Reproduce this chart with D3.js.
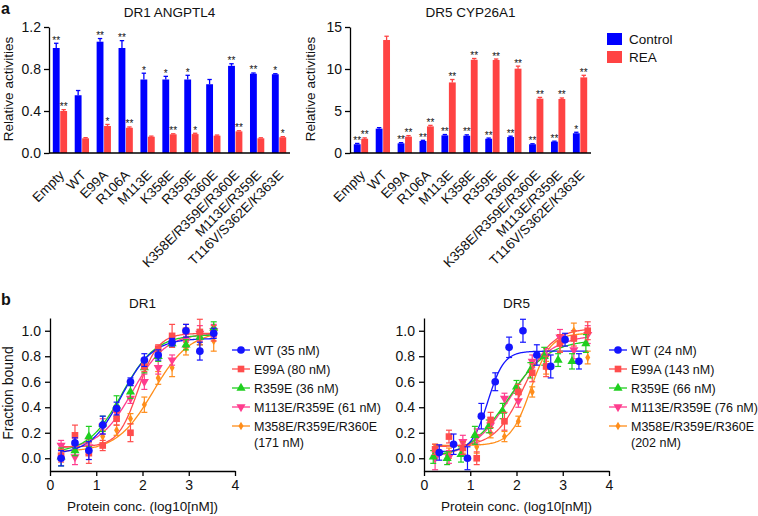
<!DOCTYPE html>
<html><head><meta charset="utf-8">
<script src="https://cdn.jsdelivr.net/npm/d3@7"></script>
<style>
body{margin:0;background:#fff}
svg{display:block}
text{font-family:"Liberation Sans",Arial,Helvetica,sans-serif;fill:#111}
</style>
</head><body>
<svg id="chart" width="758" height="516"></svg>
<script>
// ---------- Panel a data ----------
const categories = ["Empty","WT","E99A","R106A","M113E","K358E","R359E","R360E","K358E/R359E/R360E","M113E/R359E","T116V/S362E/K363E"];
const groups = ["Control","REA"];
const dr1Control    = [1.00,0.55,1.06,1.00,0.70,0.70,0.70,0.655,0.83,0.755,0.75];
const dr1ControlErr = [0.045,0.045,0.03,0.07,0.06,0.03,0.04,0.045,0.02,0.007,0.005];
const dr1Rea        = [0.40,0.14,0.257,0.24,0.155,0.178,0.18,0.165,0.206,0.14,0.15];
const dr1ReaErr     = [0.013,0.006,0.015,0.008,0.006,0.005,0.008,0.006,0.006,0.005,0.006];
const dr1ControlSig = ["**","","**","**","*","*","*","","**","**","*"];
const dr1ReaSig     = ["**","","*","**","","**","*","","**","","*"];
const dr5Control    = [1.04,2.9,1.15,1.43,2.1,2.06,1.7,1.9,1.04,1.35,2.35];
const dr5ControlErr = [0.1,0.12,0.08,0.08,0.1,0.1,0.08,0.1,0.06,0.06,0.12];
const dr5Rea        = [1.7,13.45,1.95,3.17,8.4,11.1,11.07,10.04,6.47,6.43,9.0];
const dr5ReaErr     = [0.1,0.45,0.12,0.12,0.35,0.15,0.12,0.3,0.15,0.12,0.25];
const dr5ControlSig = ["**","","**","**","**","**","**","**","**","**","*"];
const dr5ReaSig     = ["**","","**","**","**","**","**","**","**","**","**"];
const dr1Ticks = [0,0.4,0.8,1.2];
const dr5Ticks = [0,5,10,15];

// ---------- Panel b data ----------
const bindSeries = ["WT","E99A","R359E","M113E/R359E","M358E/R359E/R360E"];
const dr1Kd = [35,80,36,61,171];
const dr5Kd = [24,143,66,76,202];
const concX   = [0.24,0.54,0.84,1.14,1.44,1.74,2.04,2.34,2.64,2.94,3.24,3.54];
const concXwt5 = [0.33,0.64,0.94,1.24,1.54,1.84,2.14,2.44,2.74,3.05,3.35];
const concXg5 = [0.2,0.5,0.8,1.1,1.4,1.7,2.0,2.3,2.6,2.9,3.2,3.5];

const dr1WT      = [0.00,0.12,0.06,0.26,0.39,0.60,0.77,0.81,0.91,1.00,0.84,0.98];
const dr1WTErr   = [0.06,0.04,0.07,0.07,0.05,0.03,0.05,0.04,0.03,0.05,0.07,0.04];
const dr1E99A    = [0.02,0.18,0.04,0.10,0.31,0.20,0.72,0.86,0.96,1.00,0.99,0.98];
const dr1E99AErr = [0.05,0.08,0.08,0.04,0.05,0.07,0.04,0.03,0.09,0.05,0.10,0.06];
const dr1R359E   = [0.01,0.06,0.17,0.27,0.41,0.52,0.71,0.80,0.90,0.89,0.95,1.02];
const dr1R359EErr= [0.07,0.04,0.08,0.06,0.08,0.05,0.04,0.04,0.03,0.04,0.06,0.05];
const dr1M113    = [0.10,0.01,0.09,0.25,0.36,0.47,0.60,0.71,0.77,0.92,0.98,1.00];
const dr1M113Err = [0.04,0.06,0.06,0.06,0.05,0.04,0.06,0.05,0.04,0.05,0.06,0.05];
const dr1M358    = [0.03,0.06,0.08,0.17,0.22,0.31,0.42,0.63,0.71,0.86,0.91,0.92];
const dr1M358Err = [0.04,0.04,0.05,0.05,0.04,0.04,0.06,0.05,0.07,0.05,0.07,0.08];

const dr5WT      = [0.045,0.11,0.0,0.33,0.60,0.87,1.00,0.81,0.72,0.93,0.76];
const dr5WTErr   = [0.06,0.08,0.09,0.10,0.07,0.08,0.09,0.08,0.09,0.05,0.06];
const dr5E99A    = [0.07,0.17,0.08,0.0,0.30,0.29,0.52,0.67,0.72,0.90,0.94,1.00];
const dr5E99AErr = [0.04,0.05,0.05,0.05,0.06,0.07,0.06,0.07,0.08,0.07,0.06,0.07];
const dr5R359E   = [0.01,0.0,0.03,0.18,0.25,0.37,0.56,0.69,0.80,0.77,0.76,0.90];
const dr5R359EErr= [0.05,0.05,0.06,0.07,0.05,0.06,0.05,0.06,0.07,0.05,0.06,0.07];
const dr5M113    = [0.0,0.01,0.13,0.17,0.26,0.47,0.45,0.76,0.80,0.95,0.85,0.97];
const dr5M113Err = [0.09,0.05,0.05,0.06,0.06,0.04,0.05,0.05,0.06,0.06,0.07,0.07];
const dr5M358    = [0.08,0.04,0.08,0.09,0.20,0.17,0.29,0.52,0.71,0.90,1.00,0.79];
const dr5M358Err = [0.03,0.04,0.04,0.05,0.04,0.04,0.04,0.04,0.05,0.06,0.06,0.05];

// Hill fit parameters: bottom, top, slope
const dr1FitBottom = [0.03,0.09,0.04,0.07,0.05];
const dr1FitTop    = [0.94,0.98,0.97,0.98,1.00];
const dr1FitHill   = [1.3,2.0,1.2,1.2,1.1];
const dr5FitBottom = [0.05,0.09,0.0,0.0,0.10];
const dr5FitTop    = [0.84,1.02,0.93,0.97,0.98];
const dr5FitHill   = [2.5,1.4,1.0,1.0,2.0];

const seriesColors = ["#1414ff","#ff4d4d","#1fcf1f","#ff3d8e","#ff8d1a"];
const seriesSymbols = ["circle","square","triangle","triangleDown","diamond"];
const BLUE = "#0000ff", RED = "#ff4343";

const svg = d3.select("#chart");
const FONT = 13.5;
const LEGFONT = 12.5;

// ---------- helpers ----------
function barPanel(cfg){
  const g = svg.append("g");
  const x0 = d3.scaleBand().domain(categories).range(cfg.xr).paddingInner(0.32).paddingOuter(0.16);
  const x1 = d3.scaleBand().domain(groups).range([0, x0.bandwidth()]);
  const y = d3.scaleLinear().domain(cfg.yd).range([153,27]);
  const rows = categories.map((c,i)=>({c, vals:[
    {k:"Control", v:cfg.ctrl[i], e:cfg.ctrlErr[i], s:cfg.ctrlSig[i], col:BLUE},
    {k:"REA", v:cfg.rea[i], e:cfg.reaErr[i], s:cfg.reaSig[i], col:RED}]}));
  const cg = g.selectAll("g.cat").data(rows).join("g").attr("transform",d=>`translate(${x0(d.c)},0)`);
  const bg = cg.selectAll("g.b").data(d=>d.vals).join("g");
  bg.append("rect").attr("x",d=>x1(d.k)+0.3).attr("width",x1.bandwidth()-0.6)
    .attr("y",d=>y(d.v)).attr("height",d=>y(0)-y(d.v)).attr("fill",d=>d.col);
  bg.append("line").attr("x1",d=>x1(d.k)+x1.bandwidth()/2).attr("x2",d=>x1(d.k)+x1.bandwidth()/2)
    .attr("y1",d=>y(d.v)).attr("y2",d=>y(d.v+d.e)).attr("stroke",d=>d.col).attr("stroke-width",1.3);
  bg.append("line").attr("x1",d=>x1(d.k)+x1.bandwidth()/2-2.2).attr("x2",d=>x1(d.k)+x1.bandwidth()/2+2.2)
    .attr("y1",d=>y(d.v+d.e)).attr("y2",d=>y(d.v+d.e)).attr("stroke",d=>d.col).attr("stroke-width",1.3);
  bg.append("text").attr("x",d=>x1(d.k)+x1.bandwidth()/2).attr("y",d=>y(d.v+d.e)+0.5)
    .attr("text-anchor","middle").attr("font-size",10).text(d=>d.s);
  const ya = d3.axisLeft(y).tickValues(cfg.ticks).tickSize(5).tickSizeOuter(0).tickPadding(3)
    .tickFormat(cfg.fmt);
  const yg = g.append("g").attr("transform",`translate(${cfg.xr[0]},0)`).call(ya);
  yg.select(".domain").attr("stroke","#000").attr("stroke-width",1.3);
  yg.selectAll(".tick line").attr("stroke","#000").attr("stroke-width",1.3);
  yg.selectAll(".tick text").attr("font-size",14).attr("fill","#111").style("font-family",'"Liberation Sans",Arial,sans-serif');
  g.append("line").attr("x1",cfg.xr[0]).attr("x2",cfg.xr[1]).attr("y1",153).attr("y2",153)
    .attr("stroke","#000").attr("stroke-width",1.3);
  g.selectAll("text.cat").data(categories).join("text").attr("class","cat")
    .attr("text-anchor","end").attr("font-size",FONT)
    .attr("transform",d=>`translate(${x0(d)+x0.bandwidth()/2+5},${176}) rotate(-45)`)
    .text(d=>d);
  g.append("text").attr("x",(cfg.xr[0]+cfg.xr[1])/2).attr("y",17).attr("text-anchor","middle")
    .attr("font-size",FONT).text(cfg.title);
  g.append("text").attr("transform",`translate(${cfg.ylabX},89) rotate(-90)`).attr("text-anchor","middle")
    .attr("font-size",FONT).text("Relative activities");
}

function symbolPath(name, size){
  if(name==="triangleDown") return d3.symbol(d3.symbolTriangle, size)();
  const map = {circle:d3.symbolCircle, square:d3.symbolSquare, triangle:d3.symbolTriangle, diamond:d3.symbolDiamond};
  return d3.symbol(map[name], size)();
}
const symSize = {circle:46, square:44, triangle:36, triangleDown:36, diamond:22};

function bindPanel(cfg){
  const g = svg.append("g");
  const x = d3.scaleLinear().domain([0,4]).range(cfg.xr);
  const y = d3.scaleLinear().domain([-0.1,1.1]).range([471,318]);
  const order = [4,3,2,1,0];
  order.forEach(i=>{
    const lec = Math.log10(cfg.kd[i]);
    const xs = d3.range(cfg.cx[0], cfg.cx[1]+0.0001, 0.02);
    const pts = xs.map(xx=>[xx, cfg.bot[i] + (cfg.top[i]-cfg.bot[i])/(1+Math.pow(10,(lec-xx)*cfg.hill[i]))]);
    g.append("path").attr("d",d3.line().x(d=>x(d[0])).y(d=>y(d[1]))(pts))
      .attr("fill","none").attr("stroke",seriesColors[i]).attr("stroke-width",1.3);
  });
  order.forEach(i=>{
    const s = cfg.series[i];
    const pts = s.x.map((xx,j)=>({x:xx, y:s.y[j], e:s.e[j]}));
    const col = seriesColors[i];
    const pg = g.append("g");
    const eg = pg.selectAll("g").data(pts).join("g");
    eg.append("line").attr("x1",d=>x(d.x)).attr("x2",d=>x(d.x)).attr("y1",d=>y(d.y-d.e)).attr("y2",d=>y(d.y+d.e))
      .attr("stroke",col).attr("stroke-width",1.2);
    [-1,1].forEach(sg=>eg.append("line").attr("x1",d=>x(d.x)-3).attr("x2",d=>x(d.x)+3)
      .attr("y1",d=>y(d.y+sg*d.e)).attr("y2",d=>y(d.y+sg*d.e)).attr("stroke",col).attr("stroke-width",1.2));
    eg.append("path").attr("d",symbolPath(seriesSymbols[i], symSize[seriesSymbols[i]]))
      .attr("transform",d=>`translate(${x(d.x)},${y(d.y)})${seriesSymbols[i]==="triangleDown"?" rotate(180)":""}`)
      .attr("fill",col);
  });
  const ya = d3.axisLeft(y).tickValues([0,0.2,0.4,0.6,0.8,1.0]).tickFormat(d3.format(".1f"))
    .tickSize(5).tickSizeOuter(0).tickPadding(4);
  const yg = g.append("g").attr("transform",`translate(${cfg.xr[0]},0)`).call(ya);
  const xa = d3.axisBottom(x).tickValues([0,1,2,3,4]).tickFormat(d3.format("d")).tickSize(5).tickSizeOuter(0).tickPadding(4);
  const xg = g.append("g").attr("transform",`translate(0,471)`).call(xa);
  [yg,xg].forEach(a=>{
    a.select(".domain").attr("stroke","#000").attr("stroke-width",1.3);
    a.selectAll(".tick line").attr("stroke","#000").attr("stroke-width",1.3);
    a.selectAll(".tick text").attr("font-size",14).attr("fill","#111").style("font-family",'"Liberation Sans",Arial,sans-serif');
  });
  g.append("text").attr("x",(cfg.xr[0]+cfg.xr[1])/2).attr("y",308).attr("text-anchor","middle")
    .attr("font-size",FONT).text(cfg.title);
  g.append("text").attr("x",(cfg.xr[0]+cfg.xr[1])/2).attr("y",511).attr("text-anchor","middle")
    .attr("font-size",FONT).text("Protein conc. (log10[nM])");
  if(cfg.ylab){
    g.append("text").attr("transform",`translate(13,393) rotate(-90)`).attr("text-anchor","middle")
      .attr("font-size",14).text("Fraction bound");
  }
  const ly = [350,369,388,407,426];
  bindSeries.forEach((nm,i)=>{
    const lg = g.append("g").attr("transform",`translate(${cfg.legX},${ly[i]})`);
    lg.append("line").attr("x1",-9).attr("x2",9).attr("stroke",seriesColors[i]).attr("stroke-width",1.3);
    lg.append("path").attr("d",symbolPath(seriesSymbols[i], symSize[seriesSymbols[i]]))
      .attr("transform",seriesSymbols[i]==="triangleDown"?"rotate(180)":null).attr("fill",seriesColors[i]);
    const lbl = i<4 ? `${nm} (${cfg.kd[i]} nM)` : nm;
    lg.append("text").attr("x",13).attr("y",4.5).attr("font-size",LEGFONT).text(lbl);
    if(i===4) lg.append("text").attr("x",13).attr("y",21).attr("font-size",LEGFONT).text(`(${cfg.kd[i]} nM)`);
  });
}

// ---------- draw ----------
svg.append("text").attr("x",1).attr("y",14).attr("font-size",16).attr("font-weight","bold").text("a");
svg.append("text").attr("x",1).attr("y",305).attr("font-size",16).attr("font-weight","bold").text("b");

barPanel({xr:[49,290], yd:[0,1.2], ticks:dr1Ticks, fmt:d3.format(".1f"), title:"DR1 ANGPTL4", ylabX:13,
  ctrl:dr1Control, ctrlErr:dr1ControlErr, ctrlSig:dr1ControlSig, rea:dr1Rea, reaErr:dr1ReaErr, reaSig:dr1ReaSig});
barPanel({xr:[350,591], yd:[0,15], ticks:dr5Ticks, fmt:d3.format("d"), title:"DR5 CYP26A1", ylabX:315,
  ctrl:dr5Control, ctrlErr:dr5ControlErr, ctrlSig:dr5ControlSig, rea:dr5Rea, reaErr:dr5ReaErr, reaSig:dr5ReaSig});

[["Control",BLUE],["REA",RED]].forEach((d,i)=>{
  svg.append("rect").attr("x",607).attr("y",33+i*18).attr("width",15).attr("height",12).attr("fill",d[1]);
  svg.append("text").attr("x",629).attr("y",44+i*18).attr("font-size",FONT).text(d[0]);
});

bindPanel({xr:[50,235], title:"DR1", ylab:true, legX:241, kd:dr1Kd, cx:[0.24,3.54],
  bot:dr1FitBottom, top:dr1FitTop, hill:dr1FitHill,
  series:[
    {x:concX,y:dr1WT,e:dr1WTErr},{x:concX,y:dr1E99A,e:dr1E99AErr},{x:concX,y:dr1R359E,e:dr1R359EErr},
    {x:concX,y:dr1M113,e:dr1M113Err},{x:concX,y:dr1M358,e:dr1M358Err}]});
bindPanel({xr:[424,609], title:"DR5", ylab:false, legX:618, kd:dr5Kd, cx:[0.2,3.55],
  bot:dr5FitBottom, top:dr5FitTop, hill:dr5FitHill,
  series:[
    {x:concXwt5,y:dr5WT,e:dr5WTErr},{x:concX,y:dr5E99A,e:dr5E99AErr},{x:concXg5,y:dr5R359E,e:dr5R359EErr},
    {x:concX,y:dr5M113,e:dr5M113Err},{x:concX,y:dr5M358,e:dr5M358Err}]});
</script>
</body></html>
